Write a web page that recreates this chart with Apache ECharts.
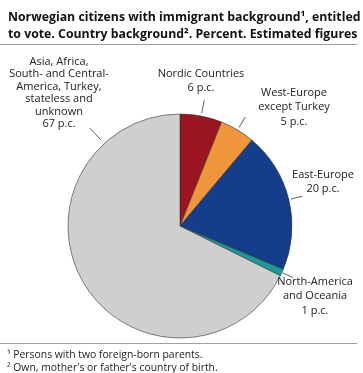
<!DOCTYPE html>
<html><head><meta charset="utf-8">
<script src="https://cdn.jsdelivr.net/npm/echarts@6/dist/echarts.min.js"></script>
<style>html,body{margin:0;padding:0;background:#fff}#c{width:363px;height:373px}</style>
</head><body><div id="c"></div>
<script>
const categories = ['Nordic Countries', 'West-Europe\nexcept Turkey', 'East-Europe', 'North-America\nand Oceania', 'Asia, Africa,\nSouth- and Central-\nAmerica, Turkey,\nstateless and\nunknown'];
const values = [6, 5, 20, 1, 67];
const colors = ['#9b1521', '#f0963a', '#143d8c', '#1a9a96', '#cfcfcd'];
const labelPos = [[201, 81], [294, 107], [323, 182], [315, 296], [59, 93]];
const titleLines = ['Norwegian citizens with immigrant background\u00b9, entitled', 'to vote. Country background\u00b2. Percent. Estimated figures'];
const footLines = ['\u00b9 Persons with two foreign-born parents.', '\u00b2 Own, mother\'s or father\'s country of birth.'];

const CENTER = [180, 226], RADIUS = 112;
// leader lines: inner/outer radius offsets; Asia's leader points to its label (screen angle, degrees)
const leaderR = [[3, 16], [3, 15], [2, 14], [1, 12], [5, 21]];
const asiaLeaderAngle = 227.4;

function fitSize(text, family, weight, targetWidth) {
  const ctx = document.createElement('canvas').getContext('2d');
  ctx.font = weight + ' 100px "' + family + '"';
  return 100 * targetWidth / ctx.measureText(text).width;
}
const titleSize = fitSize(titleLines[0], 'Open Sans', 'bold', 353);
const footSize = fitSize(footLines[1], 'Open Sans', 'normal', 211);

const chart = echarts.init(document.getElementById('c'));
function buildOption(leaders) {
  return {
    animation: false,
    title: [
      { text: titleLines.join('\n'), left: 3, top: 4, textStyle: { fontFamily: 'Open Sans', fontSize: titleSize, fontWeight: 'bold', color: '#111', lineHeight: 17 } },
      { text: footLines.join('\n'), left: 2, top: 344, textStyle: { fontFamily: 'Open Sans', fontSize: footSize, fontWeight: 'normal', color: '#222', lineHeight: 13 } }
    ],
    graphic: [
      { type: 'line', shape: { x1: 0, y1: 44.5, x2: 357, y2: 44.5 }, style: { stroke: '#a0a0a0', lineWidth: 1 } },
      { type: 'line', shape: { x1: 0, y1: 343.5, x2: 357, y2: 343.5 }, style: { stroke: '#a0a0a0', lineWidth: 1 } }
    ],
    series: [{
      type: 'pie',
      center: CENTER,
      radius: RADIUS,
      startAngle: 90,
      clockwise: true,
      data: categories.map((n, i) => ({
        name: n, value: values[i], itemStyle: { color: colors[i] },
        label: i === 4 ? { lineHeight: 12.5 } : {}
      })),
      itemStyle: { borderColor: '#333', borderWidth: 0.6 },
      label: {
        show: true, position: 'outside', fontFamily: 'Open Sans', fontSize: 11, color: '#222', lineHeight: 14.5, align: 'center',
        width: 160, overflow: 'none',
        formatter: p => p.name + '\n' + p.value + ' p.c.'
      },
      labelLine: { show: true, length: 13, length2: 0, lineStyle: { color: '#333', width: 0.8 } },
      labelLayout: p => {
        const o = { x: labelPos[p.dataIndex][0], y: labelPos[p.dataIndex][1], align: 'center', verticalAlign: 'middle' };
        if (leaders) o.labelLinePoints = leaders[p.dataIndex];
        return o;
      }
    }]
  };
}
chart.setOption(buildOption(null));
const data = chart.getModel().getSeriesByIndex(0).getData();
const leaders = values.map((v, i) => {
  const l = data.getItemLayout(i);
  const a = i === 4 ? asiaLeaderAngle * Math.PI / 180 : (l.startAngle + l.endAngle) / 2;
  const r1 = l.r + leaderR[i][0], r2 = l.r + leaderR[i][1];
  const p1 = [l.cx + r1 * Math.cos(a), l.cy + r1 * Math.sin(a)];
  const p2 = [l.cx + r2 * Math.cos(a), l.cy + r2 * Math.sin(a)];
  return [p1, p2, p2];
});
chart.setOption(buildOption(leaders));
</script></body></html>
